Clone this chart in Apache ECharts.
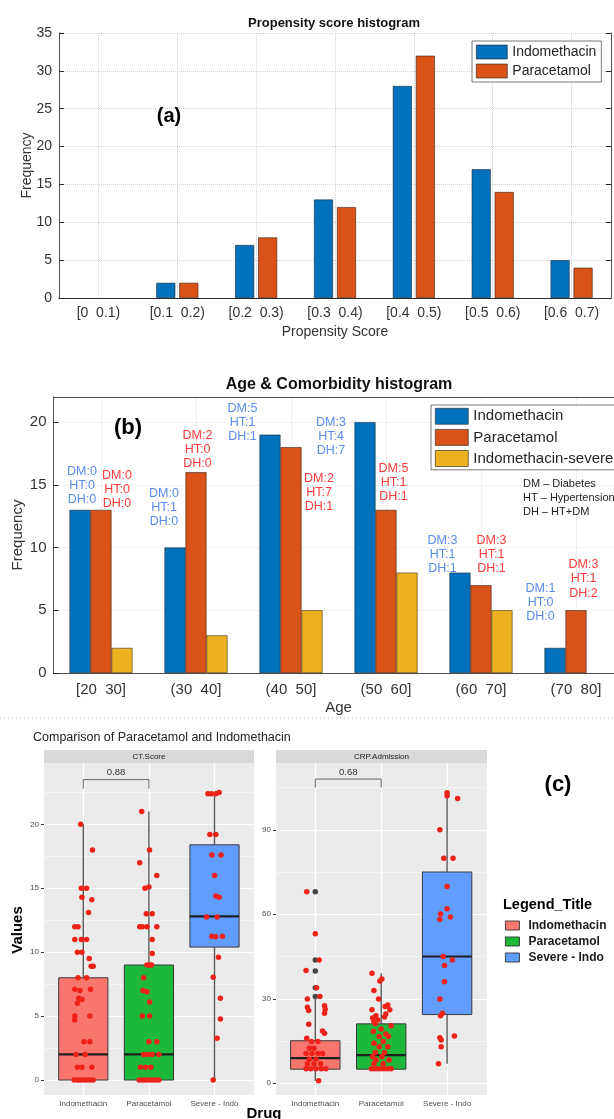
<!DOCTYPE html>
<html><head><meta charset="utf-8">
<script src="https://cdn.jsdelivr.net/npm/echarts@6/dist/echarts.min.js"></script>
<style>html,body{margin:0;padding:0;background:#fff}#c{width:614px;height:1119px}</style>
</head><body><div id="c"></div>
<script>
// ---------- Panel (a): propensity score histogram ----------
const propCategories = ['[0  0.1)', '[0.1  0.2)', '[0.2  0.3)', '[0.3  0.4)', '[0.4  0.5)', '[0.5  0.6)', '[0.6  0.7)'];
const propIndomethacin = [0, 2, 7, 13, 28, 17, 5];
const propParacetamol = [0, 2, 8, 12, 32, 14, 4];

// ---------- Panel (b): age & comorbidity histogram ----------
const ageCategories = ['[20  30]', '(30  40]', '(40  50]', '(50  60]', '(60  70]', '(70  80]'];
const ageIndomethacin = [13, 10, 19, 20, 8, 2];
const ageParacetamol = [13, 16, 18, 13, 7, 5];
const ageIndoSevere = [2, 3, 5, 8, 5, 0];
const indoDM = [0, 0, 5, 3, 3, 1];
const indoHT = [0, 1, 1, 4, 1, 0];
const indoDH = [0, 0, 1, 7, 1, 0];
const paraDM = [0, 2, 2, 5, 3, 3];
const paraHT = [0, 0, 7, 1, 1, 1];
const paraDH = [0, 0, 1, 1, 1, 2];
const noteLines = ['DM \u2013 Diabetes', 'HT \u2013 Hypertension', 'DH \u2013 HT+DM'];

// ---------- Panel (c): box plots ----------
const drugCategories = ['Indomethacin', 'Paracetamol', 'Severe - Indo'];
const ctTicks = [0, 5, 10, 15, 20];
const ctMinor = [2.5, 7.5, 12.5, 17.5, 22.5];
const crpTicks = [0, 30, 60, 90];
const crpMinor = [15, 45, 75, 105];
// box stats: [lower whisker, Q1, median, Q3, upper whisker]
const ctBoxIndo = [0, 0, 2, 8, 20];
const ctBoxPara = [0, 0, 2, 9, 21];
const ctBoxSev = [0, 10.4, 12.8, 18.4, 22.5];
const crpBoxIndo = [0.9, 5, 8.9, 15.1, 29.9];
const crpBoxPara = [5, 5, 10, 21.1, 39.1];
const crpBoxSev = [6.9, 24.4, 45, 75, 103.1];
const crpIndoOutliers = [68, 43.8, 39.9, 33.9, 30.8];
// jittered points: values and horizontal jitter (category units)
const ctIndoY = [20, 18, 15, 15, 14.3, 14.1, 13.1, 12, 12, 11, 11, 11, 10, 10, 9.5, 8.9, 8.9, 8, 8, 7.1, 7, 7.1, 6.4, 6.3, 6, 5, 5, 4.7, 3, 3, 2, 2, 1, 1, 1, 0, 0, 0, 0, 0, 0, 0];
const ctIndoJ = [-0.04, 0.14, -0.03, 0.05, -0.02, 0.13, 0.08, -0.13, -0.08, -0.13, -0.03, 0.05, -0.09, -0.02, 0.09, 0.12, 0.15, -0.08, 0.05, -0.13, -0.05, 0.11, -0.07, -0.02, -0.09, -0.13, 0.1, -0.13, 0.01, 0.1, -0.11, 0.03, -0.09, -0.02, 0.13, -0.14, -0.09, -0.05, 0, 0.05, 0.1, 0.15];
const ctParaY = [21, 18, 17, 16, 15, 15.1, 13, 13, 12, 12, 12, 12, 11, 9.9, 9, 9, 9, 8, 7, 6.9, 6.1, 5, 5, 3, 3, 2, 2, 2, 2, 1, 1, 1, 0, 0, 0, 0, 0, 0, 0];
const ctParaJ = [-0.11, 0.01, -0.14, 0.12, -0.06, 0, -0.04, 0.05, -0.14, -0.10, -0.03, 0.12, 0.05, 0.05, -0.03, 0.01, 0.04, -0.08, -0.09, -0.03, 0.01, -0.1, 0.01, 0, 0.12, -0.08, -0.02, 0.05, 0.15, -0.13, -0.05, 0.03, -0.15, -0.1, -0.05, 0, 0.05, 0.1, 0.15];
const ctSevY = [22.4, 22.4, 22.4, 22.5, 19.2, 19.2, 17.6, 17.6, 16, 14.4, 14.3, 12.75, 12.75, 11.25, 11.2, 11.25, 9.6, 8.05, 6.4, 4.77, 3.26, 0];
const ctSevJ = [-0.10, -0.05, 0.02, 0.07, -0.07, 0.02, -0.04, 0.10, 0, 0.02, 0.07, -0.12, 0.04, -0.04, 0.02, 0.12, 0.06, -0.02, 0.09, 0.09, 0.04, -0.02];
const crpIndoY = [68, 53.1, 43.8, 40, 33.9, 29.9, 30.8, 27, 25.8, 27.5, 26.3, 24.9, 21, 18.6, 17.8, 16, 14.8, 14.8, 12.4, 12.4, 10.6, 10.6, 10.6, 10.6, 8.5, 8.5, 6.9, 6.9, 6.9, 5.2, 5.2, 5.2, 5.2, 5.2, 0.9];
const crpIndoJ = [-0.13, 0, 0.06, -0.14, 0.02, -0.12, 0.07, -0.12, -0.1, 0.14, 0.15, 0.14, -0.1, 0.11, 0.14, -0.13, -0.06, 0.04, -0.09, -0.02, -0.14, -0.05, 0.04, 0.11, -0.09, 0.01, -0.12, -0.02, 0.08, -0.14, -0.07, 0.01, 0.09, 0.16, 0.05];
const crpParaY = [39.1, 37, 36.3, 32.9, 29.9, 27.8, 27.3, 26.1, 26.1, 24, 23.2, 22.5, 24.6, 23.5, 21.9, 21.1, 20.4, 19.3, 18.4, 17.5, 16.6, 16.6, 14.8, 14.2, 13, 13, 10.9, 10.9, 9.4, 9.4, 8.3, 8.3, 6.9, 6.9, 5.2, 5.2, 5.2, 5.2, 5.2, 5.2, 5.2];
const crpParaJ = [-0.14, 0.01, -0.02, -0.11, -0.04, 0.10, 0.06, -0.14, 0.13, -0.08, -0.13, -0.05, 0.07, 0.05, -0.11, -0.09, 0.15, 0, -0.12, 0.07, -0.03, 0.11, 0.03, -0.11, -0.03, 0.10, -0.09, 0.05, -0.13, 0.01, -0.08, 0.12, -0.11, 0.03, -0.15, -0.1, -0.05, 0, 0.05, 0.1, 0.15];
const crpSevY = [103.1, 102.1, 101.1, 90, 79.9, 79.9, 69.9, 62, 60.1, 58.1, 59, 45, 43.8, 41.8, 36, 29.9, 24.9, 24, 16.2, 15.4, 13, 16.8, 6.9];
const crpSevJ = [0, 0, 0.16, -0.11, -0.05, 0.09, 0, 0, -0.1, -0.11, 0.05, -0.06, 0.08, -0.04, -0.04, -0.11, -0.07, -0.1, -0.11, -0.09, -0.09, 0.11, -0.13];
const ctBracket = [0, 1, 23.5, 22.8];
const crpBracket = [0, 1, 108, 105];
const ctPValue = '0.88';
const crpPValue = '0.68';

// ---------- styling (not data) ----------
const FONT = '"Liberation Sans", Arial, Helvetica, sans-serif';
const AX = '#262626';
const TXT = '#333';
const indoLabelOffset = [[2, -3], [-11, -18.5], [-27.5, 9.4], [-34, 36], [-17.5, 3.4], [-14.5, -24]];
const paraLabelOffset = [[16, 1], [1.5, -1.3], [28, 67], [7.5, -6], [10.5, -9], [7.5, -10]];
const C_PINK = '#F8766D', C_GREEN = '#1DB83A', C_BLUE = '#619CFF', C_DOT = '#EE2218';

function txt(x, y, text, size, weight, color, align, rot) {
  const a = align || 'center';
  return { type: 'text', x: x, y: y, rotation: rot || 0, silent: true, z: 100,
    style: { text: text, fill: color || '#000', font: (weight || 'normal') + ' ' + size + 'px ' + FONT,
      align: a, verticalAlign: 'middle', textAlign: a, textVerticalAlign: 'middle' } };
}

// zero-height bars get no outline (nothing drawn for empty bins)
function barItems(values, extra) {
  return values.map(function (v, i) {
    const item = { value: v };
    if (v === 0) item.itemStyle = { borderWidth: 0 };
    if (extra) Object.assign(item, extra(i));
    return item;
  });
}

function boxSeries(name, catIdx, stats, color, xIdx, yIdx) {
  return {
    type: 'custom', name: name, xAxisIndex: xIdx, yAxisIndex: yIdx, z: 3, silent: true,
    itemStyle: { color: color },
    data: [[drugCategories[catIdx]].concat(stats)],
    encode: { x: 0, y: [1, 2, 3, 4, 5] },
    renderItem: function (params, api) {
      const xi = api.value(0);
      const lo = api.coord([xi, api.value(1)]);
      const q1 = api.coord([xi, api.value(2)]);
      const md = api.coord([xi, api.value(3)]);
      const q3 = api.coord([xi, api.value(4)]);
      const hi = api.coord([xi, api.value(5)]);
      const w = api.size([1, 0])[0] * 0.75;
      const x = md[0];
      return { type: 'group', children: [
        { type: 'line', shape: { x1: x, y1: hi[1], x2: x, y2: lo[1] }, style: { stroke: '#5a5a5a', lineWidth: 1.4 } },
        { type: 'rect', shape: { x: x - w / 2, y: q3[1], width: w, height: q1[1] - q3[1] }, style: { fill: color, stroke: '#3a3a3a', lineWidth: 1 } },
        { type: 'line', shape: { x1: x - w / 2, y1: md[1], x2: x + w / 2, y2: md[1] }, style: { stroke: '#1f1f1f', lineWidth: 2.2 } }
      ] };
    }
  };
}

function jitterSeries(name, catIdx, ys, js, xIdx, yIdx) {
  return { type: 'scatter', name: name, xAxisIndex: xIdx, yAxisIndex: yIdx, z: 6, silent: true,
    symbolSize: 5.5, itemStyle: { color: C_DOT, opacity: 1 },
    data: ys.map(function (v, i) { return [catIdx + js[i], v]; }) };
}

function bracketSeries(spec, label, xIdx, yIdx) {
  return { type: 'custom', xAxisIndex: xIdx, yAxisIndex: yIdx, z: 7, silent: true,
    data: [spec], encode: { x: [0, 1], y: [2, 3] },
    renderItem: function (params, api) {
      const a = api.coord([api.value(0), api.value(3)]);
      const b = api.coord([api.value(0), api.value(2)]);
      const c = api.coord([api.value(1), api.value(2)]);
      const d = api.coord([api.value(1), api.value(3)]);
      return { type: 'group', children: [
        { type: 'polyline', shape: { points: [a, b, c, d] }, style: { stroke: '#666', lineWidth: 1, fill: null } },
        { type: 'text', x: (b[0] + c[0]) / 2, y: b[1] - 7, style: { text: label, fill: '#333', font: '9.5px ' + FONT, align: 'center', verticalAlign: 'middle', textAlign: 'center', textVerticalAlign: 'middle' } }
      ] };
    }
  };
}

function matlabCatAxis(grid, data, fs, margin, name, nameGap, gridColor) {
  return { gridIndex: grid, type: 'category', data: data, position: 'bottom',
    axisLine: { lineStyle: { color: AX, width: 0.8 } },
    axisTick: { alignWithLabel: true, inside: true, length: 5, lineStyle: { color: AX } },
    axisLabel: { interval: 0, fontSize: fs, color: TXT, fontFamily: FONT, margin: margin },
    splitLine: { show: true, alignWithLabel: true, lineStyle: { color: gridColor, type: 'dotted', width: 1 } },
    name: name, nameLocation: 'middle', nameGap: nameGap, nameMoveOverlap: false,
    nameTextStyle: { fontSize: fs, color: TXT, fontFamily: FONT } };
}
function topTickAxis(grid, data) {
  return { gridIndex: grid, type: 'category', data: data, position: 'top',
    axisLine: { lineStyle: { color: AX, width: 0.8 } },
    axisTick: { alignWithLabel: true, inside: true, length: 5, lineStyle: { color: AX } },
    axisLabel: { show: false }, splitLine: { show: false } };
}
function ggValueAxes(grid, dataGrid, min, max, ticks, minor) {
  return [
    { gridIndex: grid, type: 'value', min: min, max: max, position: 'left',
      axisLine: { show: false },
      axisTick: { show: true, length: 3, customValues: ticks, lineStyle: { color: '#333' } },
      axisLabel: { customValues: ticks, fontSize: 8, color: '#4d4d4d', fontFamily: FONT, margin: 5,
        formatter: function (v) { return ticks.indexOf(v) >= 0 ? String(v) : ''; } },
      splitLine: { show: true, lineStyle: { color: '#ffffff', width: 1.2 } } },
    { gridIndex: grid, type: 'value', min: min, max: max, position: 'right',
      axisLine: { show: false }, axisTick: { show: false, customValues: minor },
      axisLabel: { show: false, customValues: minor },
      splitLine: { show: true, lineStyle: { color: '#ffffff', width: 0.5 } } },
    { gridIndex: dataGrid, type: 'value', min: min, max: max, show: false }
  ];
}
function ggCatAxes(grid, dataGrid) {
  return [
    { gridIndex: grid, type: 'value', min: 0, max: 1, show: false },
    { gridIndex: dataGrid, type: 'category', data: drugCategories,
      axisLine: { show: false },
      axisTick: { alignWithLabel: true, length: 3, lineStyle: { color: '#333' } },
      axisLabel: { interval: 0, fontSize: 8, color: '#4d4d4d', fontFamily: FONT, margin: 5 },
      splitLine: { show: true, alignWithLabel: true, lineStyle: { color: '#ffffff', width: 1.2 } } },
    { gridIndex: dataGrid, type: 'value', min: -0.5, max: 2.5, show: false }
  ];
}

const chart = echarts.init(document.getElementById('c'), null, { renderer: 'canvas', width: 614, height: 1119 });

const gridBase = { containLabel: false, outerBoundsMode: 'none' };
const option = {
  animation: false,
  backgroundColor: '#ffffff',
  textStyle: { fontFamily: FONT },
  grid: [
    Object.assign({ left: 59, top: 33, width: 552, height: 265 }, gridBase),
    Object.assign({ left: 53.5, top: 397, width: 570, height: 276 }, gridBase),
    Object.assign({ left: 44, top: 763, width: 210, height: 332, show: true, backgroundColor: '#ebebeb', borderWidth: 0 }, gridBase),
    Object.assign({ left: 50.5, top: 763, width: 196.8, height: 332 }, gridBase),
    Object.assign({ left: 276, top: 763, width: 211, height: 332, show: true, backgroundColor: '#ebebeb', borderWidth: 0 }, gridBase),
    Object.assign({ left: 282.35, top: 763, width: 197.7, height: 332 }, gridBase)
  ],
  xAxis: [
    matlabCatAxis(0, propCategories, 14, 8, 'Propensity Score', 27, '#d2d2d2'),
    topTickAxis(0, propCategories),
    matlabCatAxis(1, ageCategories, 15, 9, 'Age', 27.5, '#e2e2e2'),
    topTickAxis(1, ageCategories)
  ].concat(ggCatAxes(2, 3)).concat(ggCatAxes(4, 5)),
  yAxis: [
    { gridIndex: 0, type: 'value', min: 0, max: 35, interval: 5, position: 'left',
      axisLine: { show: true, lineStyle: { color: AX, width: 0.8 } },
      axisTick: { show: true, inside: true, length: 5, lineStyle: { color: AX } },
      axisLabel: { fontSize: 14, color: TXT, fontFamily: FONT, margin: 7 },
      splitLine: { show: true, lineStyle: { color: '#d2d2d2', type: 'dotted', width: 1 } },
      name: 'Frequency', nameLocation: 'middle', nameGap: 25, nameMoveOverlap: false,
      nameTextStyle: { fontSize: 14, color: TXT, fontFamily: FONT } },
    { gridIndex: 0, type: 'value', min: 0, max: 35, interval: 5, position: 'right',
      axisLine: { show: true, lineStyle: { color: AX, width: 0.8 } },
      axisTick: { show: true, inside: true, length: 5, lineStyle: { color: AX } },
      axisLabel: { show: false }, splitLine: { show: false } },
    { gridIndex: 1, type: 'value', min: 0, max: 22, interval: 5, position: 'left',
      axisLine: { show: true, lineStyle: { color: AX, width: 0.8 } },
      axisTick: { show: true, inside: true, length: 5, lineStyle: { color: AX } },
      axisLabel: { fontSize: 15, color: TXT, fontFamily: FONT, margin: 7, showMaxLabel: false },
      splitLine: { show: true, lineStyle: { color: '#e2e2e2', type: 'dotted', width: 1 } },
      name: 'Frequency', nameLocation: 'middle', nameGap: 28, nameMoveOverlap: false,
      nameTextStyle: { fontSize: 15, color: TXT, fontFamily: FONT } }
  ].concat(ggValueAxes(2, 3, -1.17, 24.8, ctTicks, ctMinor))
   .concat(ggValueAxes(4, 5, -4.16, 113.7, crpTicks, crpMinor)),
  legend: [
    { data: ['Indomethacin', 'Paracetamol'], left: 472, top: 41, orient: 'vertical',
      itemWidth: 31, itemHeight: 14, itemGap: 3, padding: [3, 5, 3, 4], icon: 'rect',
      backgroundColor: '#fff', borderColor: '#555', borderWidth: 0.8, borderRadius: 0, selectedMode: false,
      itemStyle: { borderColor: '#222', borderWidth: 0.6 },
      textStyle: { fontSize: 14, color: AX, fontFamily: FONT, lineHeight: 16 } },
    { data: ['Indomethacin (b)', 'Paracetamol (b)', 'Indomethacin-severe'], left: 431, top: 405, orient: 'vertical',
      formatter: function (n) { return n.replace(' (b)', ''); },
      itemWidth: 33, itemHeight: 16, itemGap: 4.5, padding: [3, 5, 3, 4], icon: 'rect',
      backgroundColor: '#fff', borderColor: '#555', borderWidth: 0.8, borderRadius: 0, selectedMode: false,
      itemStyle: { borderColor: '#222', borderWidth: 0.6 },
      textStyle: { fontSize: 15, color: AX, fontFamily: FONT, lineHeight: 16 } },
    { data: [
        { name: 'Indomethacin (c)', itemStyle: { color: C_PINK } },
        { name: 'Paracetamol (c)', itemStyle: { color: C_GREEN } },
        { name: 'Severe - Indo', itemStyle: { color: C_BLUE } } ],
      formatter: function (n) { return n.replace(' (c)', ''); },
      left: 505, top: 919.5, orient: 'vertical', itemWidth: 14, itemHeight: 9, itemGap: 4, padding: 0,
      icon: 'rect', selectedMode: false,
      itemStyle: { borderColor: '#333', borderWidth: 0.9 },
      textStyle: { fontSize: 12, fontWeight: 'bold', color: '#1a1a1a', fontFamily: FONT, lineHeight: 11, padding: [0, 0, 0, 4] } }
  ],
  graphic: { elements: [
    txt(334, 23, 'Propensity score histogram', 13, 'bold', '#111'),
    txt(169, 116, '(a)', 20, 'bold', '#000'),
    txt(339, 385, 'Age & Comorbidity histogram', 16, 'bold', '#111'),
    txt(128, 428, '(b)', 22, 'bold', '#000'),
    txt(523, 484, noteLines[0], 11, 'normal', '#222', 'left'),
    txt(523, 498, noteLines[1], 11, 'normal', '#222', 'left'),
    txt(523, 512, noteLines[2], 11, 'normal', '#222', 'left'),
    { type: 'line', silent: true, shape: { x1: 0, y1: 718, x2: 614, y2: 718 }, style: { stroke: '#bdbdbd', lineWidth: 1, lineDash: [1, 3] } },
    txt(33, 738, 'Comparison of Paracetamol and Indomethacin', 12.5, 'normal', '#222', 'left'),
    { type: 'rect', silent: true, shape: { x: 44, y: 750, width: 210, height: 13 }, style: { fill: '#d9d9d9' } },
    { type: 'rect', silent: true, shape: { x: 276, y: 750, width: 211, height: 13 }, style: { fill: '#d9d9d9' } },
    txt(149, 757, 'CT.Score', 8, 'normal', '#1a1a1a'),
    txt(381.5, 757, 'CRP.Admission', 8, 'normal', '#1a1a1a'),
    txt(18, 930, 'Values', 15, 'bold', '#000', 'center', Math.PI / 2),
    txt(264, 1114, 'Drug', 15, 'bold', '#000'),
    txt(558, 785, '(c)', 22, 'bold', '#000'),
    txt(503, 905, 'Legend_Title', 14.5, 'bold', '#000', 'left')
  ] },
  series: [
    { type: 'bar', name: 'Indomethacin', xAxisIndex: 0, yAxisIndex: 0, data: barItems(propIndomethacin),
      barWidth: 19, barGap: '21%', itemStyle: { color: '#0072BD', borderColor: '#1c2a38', borderWidth: 0.6 } },
    { type: 'bar', name: 'Paracetamol', xAxisIndex: 0, yAxisIndex: 0, data: barItems(propParacetamol),
      barWidth: 19, barGap: '21%', itemStyle: { color: '#D95319', borderColor: '#3a2012', borderWidth: 0.6 } },
    { type: 'bar', name: 'Indomethacin (b)', xAxisIndex: 2, yAxisIndex: 2, barWidth: 21, barGap: '0%',
      itemStyle: { color: '#0072BD', borderColor: '#1c2a38', borderWidth: 0.6 },
      data: barItems(ageIndomethacin, function (i) { return { label: { offset: indoLabelOffset[i] } }; }),
      label: { show: true, position: 'top', distance: 0, color: '#5A8CEB', fontSize: 12.5, lineHeight: 14.3, fontFamily: FONT, align: 'center',
        formatter: function (p) { const i = p.dataIndex; return 'DM:' + indoDM[i] + '\nHT:' + indoHT[i] + '\nDH:' + indoDH[i]; } } },
    { type: 'bar', name: 'Paracetamol (b)', xAxisIndex: 2, yAxisIndex: 2, barWidth: 21, barGap: '0%',
      itemStyle: { color: '#D95319', borderColor: '#3a2012', borderWidth: 0.6 },
      data: barItems(ageParacetamol, function (i) { return { label: { offset: paraLabelOffset[i] } }; }),
      label: { show: true, position: 'top', distance: 0, color: '#FF3A3A', fontSize: 12.5, lineHeight: 14.3, fontFamily: FONT, align: 'center',
        formatter: function (p) { const i = p.dataIndex; return 'DM:' + paraDM[i] + '\nHT:' + paraHT[i] + '\nDH:' + paraDH[i]; } } },
    { type: 'bar', name: 'Indomethacin-severe', xAxisIndex: 2, yAxisIndex: 2, barWidth: 21, barGap: '0%',
      itemStyle: { color: '#EDB120', borderColor: '#3a3010', borderWidth: 0.6 }, data: barItems(ageIndoSevere) },

    boxSeries('Indomethacin (c)', 0, ctBoxIndo, C_PINK, 5, 5),
    boxSeries('Paracetamol (c)', 1, ctBoxPara, C_GREEN, 5, 5),
    boxSeries('Severe - Indo', 2, ctBoxSev, C_BLUE, 5, 5),
    boxSeries('Indomethacin (c)', 0, crpBoxIndo, C_PINK, 8, 8),
    boxSeries('Paracetamol (c)', 1, crpBoxPara, C_GREEN, 8, 8),
    boxSeries('Severe - Indo', 2, crpBoxSev, C_BLUE, 8, 8),
    { type: 'scatter', xAxisIndex: 9, yAxisIndex: 8, z: 5, silent: true, symbolSize: 5.5,
      itemStyle: { color: '#1a1a1a' }, data: crpIndoOutliers.map(function (v) { return [0, v]; }) },
    jitterSeries('Indomethacin (c)', 0, ctIndoY, ctIndoJ, 6, 5),
    jitterSeries('Paracetamol (c)', 1, ctParaY, ctParaJ, 6, 5),
    jitterSeries('Severe - Indo', 2, ctSevY, ctSevJ, 6, 5),
    jitterSeries('Indomethacin (c)', 0, crpIndoY, crpIndoJ, 9, 8),
    jitterSeries('Paracetamol (c)', 1, crpParaY, crpParaJ, 9, 8),
    jitterSeries('Severe - Indo', 2, crpSevY, crpSevJ, 9, 8),
    bracketSeries(ctBracket, ctPValue, 6, 5),
    bracketSeries(crpBracket, crpPValue, 9, 8)
  ]
};
chart.setOption(option);
</script>
</body></html>
